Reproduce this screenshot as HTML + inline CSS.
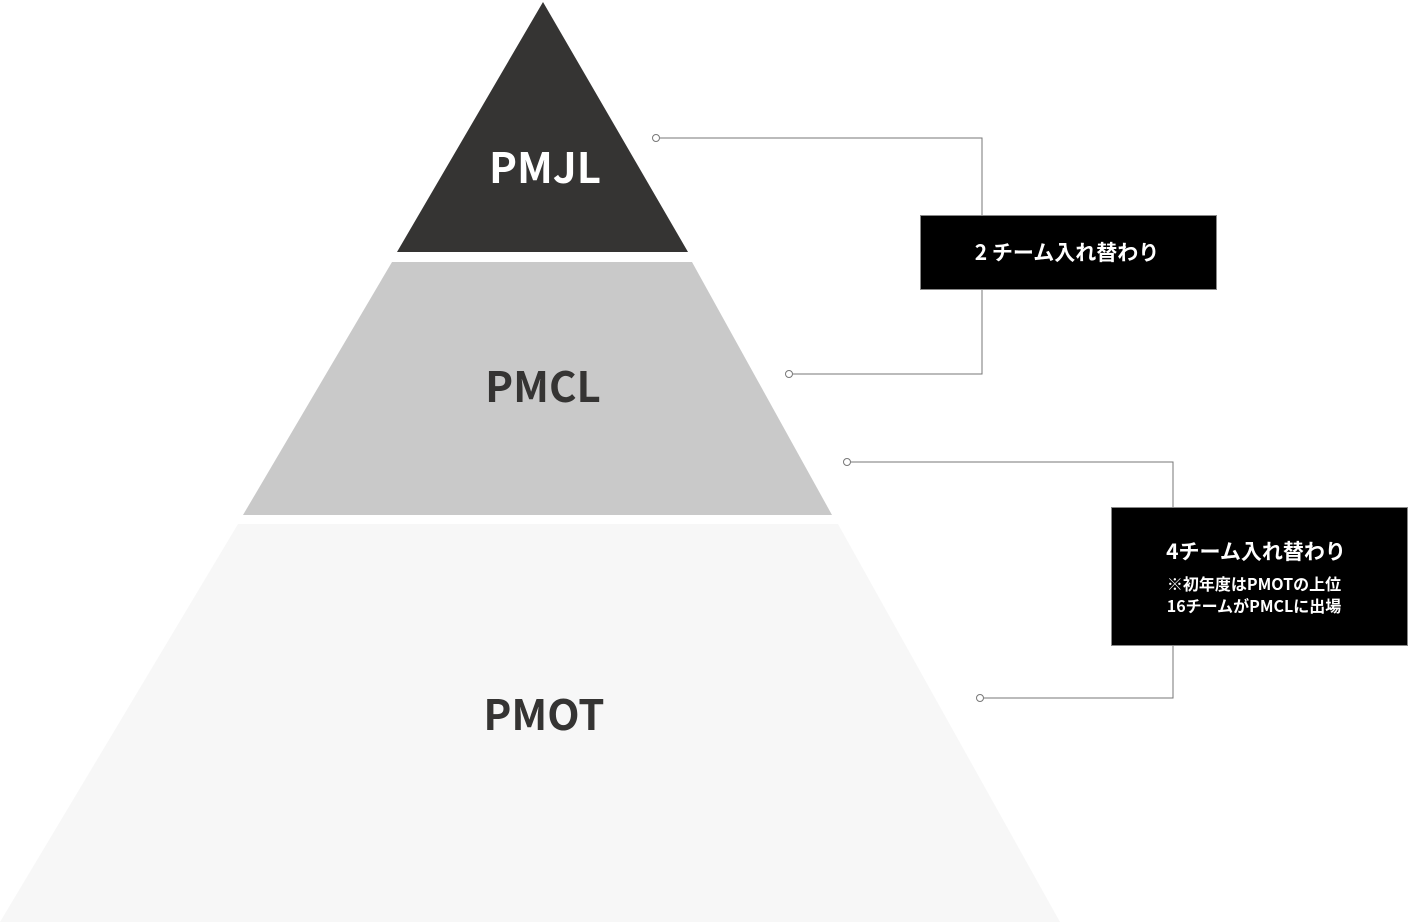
<!DOCTYPE html>
<html><head><meta charset="utf-8"><style>
html,body{margin:0;padding:0;background:#fff;width:1409px;height:922px;overflow:hidden}
svg text{font-family:"Noto Sans CJK JP","Liberation Sans",sans-serif;font-weight:bold}
</style></head><body>
<svg width="1409" height="922" viewBox="0 0 1409 922" xmlns="http://www.w3.org/2000/svg">
<polygon points="543,2 688,252 397,252" fill="#353433"/>
<polygon points="392,262 692,262 832,515 243,515" fill="#c9c9c9"/>
<polygon points="238,524 838,524 1060,922 0,922" fill="#f7f7f7"/>
<text x="545" y="183" font-size="42" fill="#fff" text-anchor="middle">PMJL</text>
<text x="543" y="402" font-size="42" fill="#353433" text-anchor="middle">PMCL</text>
<text x="544" y="730" font-size="42" fill="#353433" text-anchor="middle">PMOT</text>
<g stroke="#777" stroke-width="1" fill="none">
<polyline points="660,138 982,138 982,374 793,374"/>
<polyline points="851,462 1173,462 1173,698 984,698"/>
</g>
<g stroke="#777" stroke-width="1" fill="#fff">
<circle cx="656" cy="138" r="3.5"/><circle cx="789" cy="374" r="3.5"/>
<circle cx="847" cy="462" r="3.5"/><circle cx="980" cy="698" r="3.5"/>
</g>
<rect x="920.5" y="215.5" width="296" height="74" fill="#000" stroke="#888"/>
<text x="1067" y="260" font-size="21" fill="#fff" text-anchor="middle">2 チーム入れ替わり</text>
<rect x="1111.5" y="507.5" width="296" height="138" fill="#000" stroke="#888"/>
<text x="1256" y="559" font-size="21" fill="#fff" text-anchor="middle">4チーム入れ替わり</text>
<text x="1254" y="590" font-size="16" fill="#fff" text-anchor="middle">※初年度はPMOTの上位</text>
<text x="1254" y="612" font-size="16" fill="#fff" text-anchor="middle">16チームがPMCLに出場</text>
</svg>
</body></html>
